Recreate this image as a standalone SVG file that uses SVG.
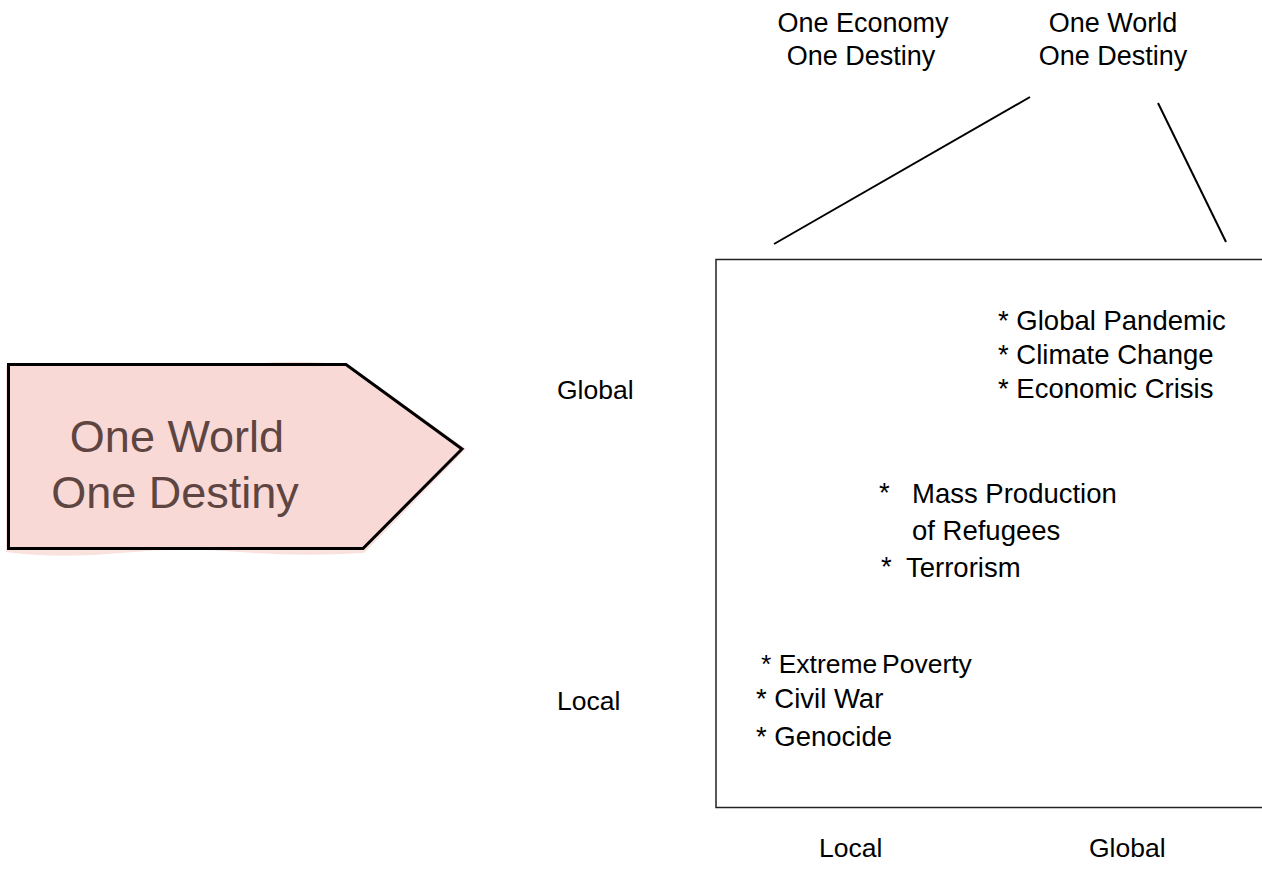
<svg xmlns="http://www.w3.org/2000/svg" width="1262" height="882" viewBox="0 0 1262 882">
<style>
  .t { font-family: "Liberation Sans", Arial, sans-serif; fill: #000; }
  .top { font-size: 27px; text-anchor: middle; }
  .lbl { font-size: 26.5px; }
  .item { font-size: 27.5px; }
  .big { font-family: "Liberation Sans", Arial, sans-serif; font-size: 45px; fill: #5e4541; text-anchor: middle; }
  .conn { stroke: #000; stroke-width: 2; fill: none; }
</style>
<rect width="1262" height="882" fill="#fff"/>
<g id="arrow-node">
  <path d="M6,366 Q60,360 120,366 T240,365 T350,366 L466,449 L364,553 Q300,557 240,552 T120,553 T6,552 Z" fill="#f8d9d6" opacity="0.8"/>
  <polygon points="8.5,364.5 346,364.5 462,449 363,548.5 8.5,548.5" fill="#f8d9d6" stroke="#000" stroke-width="3" stroke-linejoin="miter"/>
  <text class="big" x="177" y="452">One World</text>
  <text class="big" x="175" y="508">One Destiny</text>
</g>
<g id="title-economy">
  <text class="t top" x="863" y="32">One Economy</text>
  <text class="t top" x="861" y="65">One Destiny</text>
</g>
<g id="title-world">
  <text class="t top" x="1113" y="32">One World</text>
  <text class="t top" x="1113" y="65">One Destiny</text>
</g>
<g id="connectors">
  <line class="conn" x1="774" y1="244" x2="1030" y2="97"/>
  <line class="conn" x1="1158" y1="103" x2="1226" y2="242"/>
</g>
<g id="matrix">
  <path d="M1262,259.5 L716,259.5 L716,807.5 L1262,807.5" fill="none" stroke="#222" stroke-width="1.5"/>
</g>
<g id="axis-labels">
  <text class="t lbl" x="557" y="399">Global</text>
  <text class="t lbl" x="557" y="710">Local</text>
  <text class="t lbl" x="819" y="857">Local</text>
  <text class="t lbl" x="1089" y="857">Global</text>
</g>
<g id="global-items">
  <text class="t item" x="998" y="330">* Global Pandemic</text>
  <text class="t item" x="998" y="364">* Climate Change</text>
  <text class="t item" x="998" y="398">* Economic Crisis</text>
</g>
<g id="mid-items">
  <text class="t item" x="879" y="502">*</text>
  <text class="t item" x="912" y="503">Mass Production</text>
  <text class="t item" x="912" y="540">of Refugees</text>
  <text class="t item" x="881" y="576">*</text>
  <text class="t item" x="906" y="577">Terrorism</text>
</g>
<g id="local-items">
  <text class="t lbl" x="761" y="673">* Extreme<tspan x="882">Poverty</tspan></text>
  <text class="t item" x="756" y="708">* Civil War</text>
  <text class="t item" x="756" y="746">* Genocide</text>
</g>
</svg>
